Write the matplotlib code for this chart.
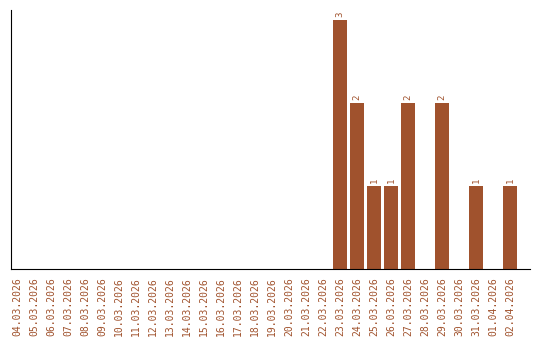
import matplotlib
matplotlib.use("Agg")
import matplotlib.pyplot as plt

dates = ["04.03.2026", "05.03.2026", "06.03.2026", "07.03.2026", "08.03.2026",
         "09.03.2026", "10.03.2026", "11.03.2026", "12.03.2026", "13.03.2026",
         "14.03.2026", "15.03.2026", "16.03.2026", "17.03.2026", "18.03.2026",
         "19.03.2026", "20.03.2026", "21.03.2026", "22.03.2026", "23.03.2026",
         "24.03.2026", "25.03.2026", "26.03.2026", "27.03.2026", "28.03.2026",
         "29.03.2026", "30.03.2026", "31.03.2026", "01.04.2026", "02.04.2026"]
counts = [0, 0, 0, 0, 0, 0, 0, 0, 0, 0,
          0, 0, 0, 0, 0, 0, 0, 0, 0, 3,
          2, 1, 1, 2, 0, 2, 0, 1, 0, 1]

color = "#A0522D"
plt.rcParams["font.family"] = "DejaVu Sans Mono"

fig = plt.figure(figsize=(5.4, 3.4), dpi=100)
ax = fig.add_axes([11 / 540, 71 / 340, 519 / 540, 259 / 340])

x = list(range(len(dates)))
ax.bar(x, counts, width=0.82, color=color)
# value labels above bars
for i, v in enumerate(counts):
    if v > 0:
        ax.text(i, v + 0.03, str(v), rotation=90, ha="center", va="bottom",
                fontsize=6.5, color=color)

ax.set_xlim(-0.35, 30.18)
ax.set_ylim(0, 3.12)
ax.set_xticks(x)
ax.set_xticklabels(dates, rotation=90, fontsize=7, color=color)
ax.set_yticks([])
ax.tick_params(axis="x", length=0, pad=6)
ax.spines["top"].set_visible(False)
ax.spines["right"].set_visible(False)

fig.savefig("out.png", dpi=100)
